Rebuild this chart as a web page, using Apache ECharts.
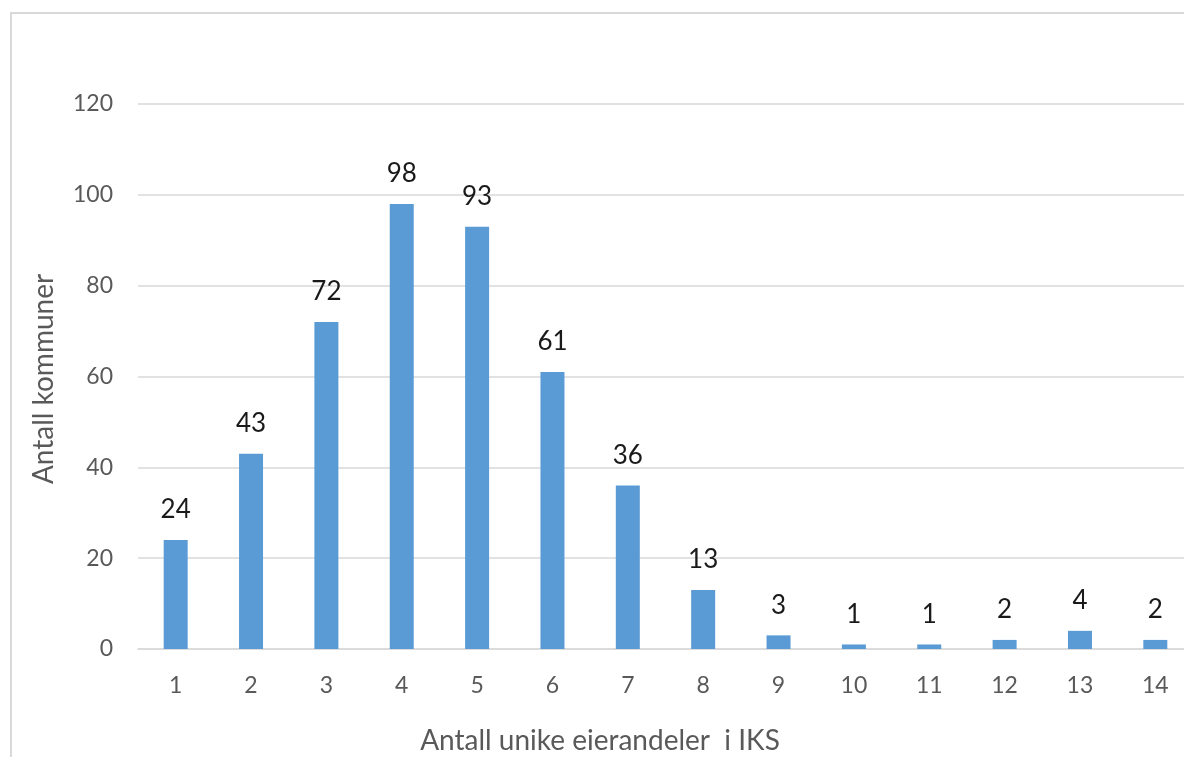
<!DOCTYPE html>
<html>
<head>
<meta charset="utf-8">
<script src="https://cdn.jsdelivr.net/npm/echarts@6/dist/echarts.min.js"></script>
<style>
  html, body { margin: 0; padding: 0; background: #fff; }
  #chart { width: 1184px; height: 757px; }
</style>
</head>
<body>
<div id="chart"></div>
<script>
// Number of unique IKS ownership shares per municipality
const categories = ['1','2','3','4','5','6','7','8','9','10','11','12','13','14'];
const kommuner = [24, 43, 72, 98, 93, 61, 36, 13, 3, 1, 1, 2, 4, 2];
const yTicks = { min: 0, max: 120, interval: 20 };

const FONT = 'Lato';
const chart = echarts.init(document.getElementById('chart'), null, { renderer: 'canvas' });

chart.setOption({
  animation: false,
  backgroundColor: '#ffffff',
  // plot area runs past the right edge of the canvas
  grid: {
    left: 138, width: 1055, top: 104, bottom: 108,
    containLabel: false,
    outerBoundsMode: 'none'
  },
  graphic: [
    {
      type: 'rect',
      shape: { x: 11, y: 13, width: 1200, height: 800 },
      style: { fill: 'none', stroke: '#d9d9d9', lineWidth: 2 },
      silent: true
    },
    {
      type: 'text',
      x: 600, y: 741,
      style: {
        text: 'Antall unike eierandeler  i IKS',
        font: '28px ' + FONT,
        fill: '#595959',
        align: 'center',
        verticalAlign: 'middle'
      }
    },
    {
      type: 'text',
      x: 44, y: 379,
      rotation: Math.PI / 2,
      style: {
        text: 'Antall kommuner',
        font: '28px ' + FONT,
        fill: '#595959',
        align: 'center',
        verticalAlign: 'middle'
      }
    }
  ],
  xAxis: {
    type: 'category',
    data: categories,
    axisLine: { show: true, lineStyle: { color: '#d9d9d9', width: 1.5 } },
    axisTick: { show: false },
    axisLabel: { color: '#595959', fontSize: 23, fontFamily: FONT, margin: 25 }
  },
  yAxis: {
    type: 'value',
    min: yTicks.min,
    max: yTicks.max,
    interval: yTicks.interval,
    axisLine: { show: false },
    axisTick: { show: false },
    splitLine: { lineStyle: { color: '#d9d9d9', width: 1.5 } },
    axisLabel: { color: '#595959', fontSize: 23, fontFamily: FONT, margin: 25 }
  },
  series: [{
    type: 'bar',
    data: kommuner,
    barWidth: 24,
    itemStyle: { color: '#5b9bd5' },
    label: {
      show: true,
      position: 'top',
      distance: 17,
      color: '#1a1a1a',
      fontSize: 26,
      fontFamily: FONT
    }
  }]
});
</script>
</body>
</html>
